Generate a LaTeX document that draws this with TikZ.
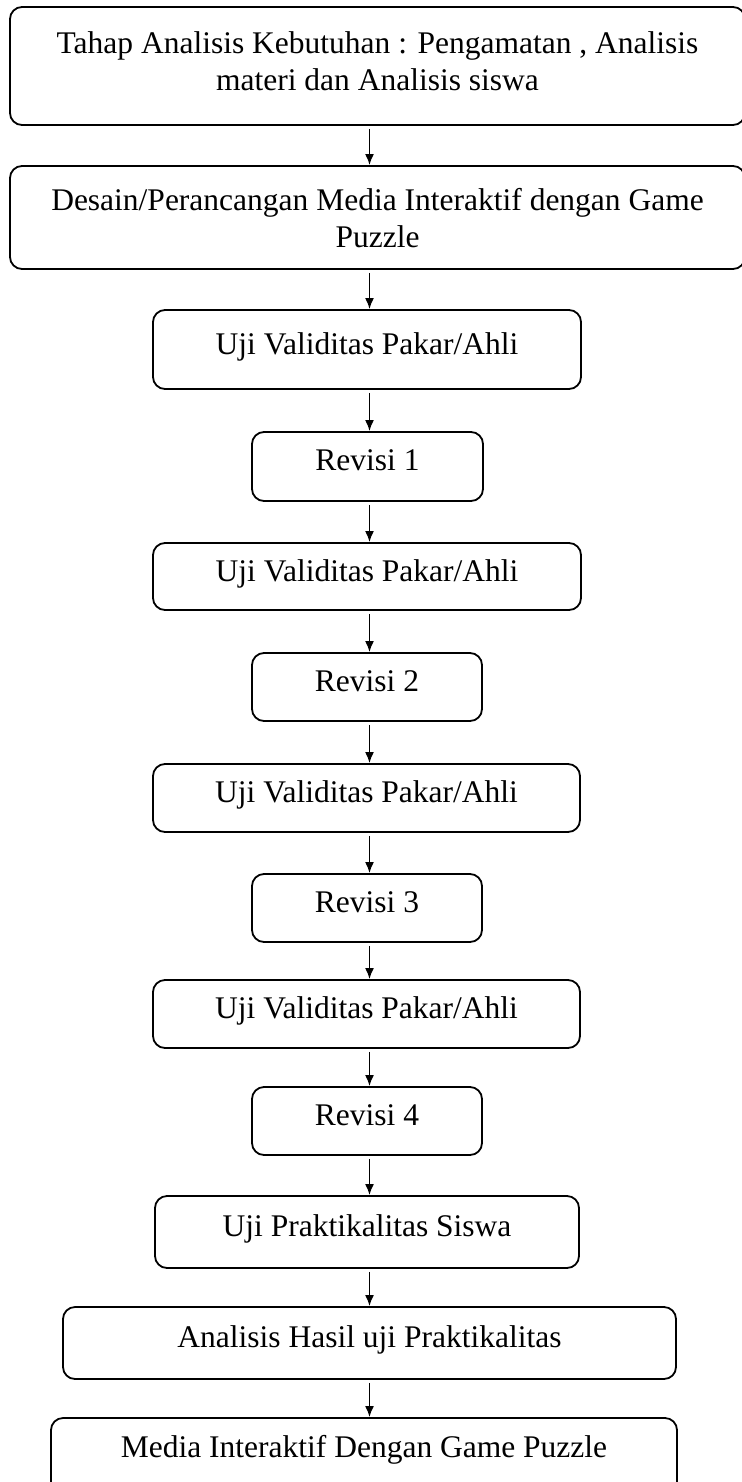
\documentclass[tikz,border=0pt]{standalone}
\usepackage{fontspec}
\setmainfont{Liberation Serif}
\usetikzlibrary{arrows.meta}

\begin{document}
\begin{tikzpicture}[x=1pt,y=-1pt,
  kotak/.style={draw, line width=1.8pt, rounded corners=12pt, align=center, inner sep=2pt, text depth=12pt, font=\fontsize{31.5}{37}\selectfont},
  panah/.style={line width=1.8pt, -{Latex[length=11pt,width=9pt]}}]
\useasboundingbox (0,0) rectangle (741,1482);
\coordinate (ax) at (369.5,0);

\node[kotak, minimum width = 735pt, minimum height = 118pt, text depth = 10pt] (tahap) at (377.5,66) {Tahap Analisis Kebutuhan : Pengamatan , Analisis\\materi dan Analisis siswa};
\node[kotak, minimum width = 735pt, minimum height = 103pt, text depth = 0pt] (desain) at (377.5,217.5) {Desain/Perancangan Media Interaktif dengan Game\\Puzzle};
\node[kotak, minimum width = 428pt, minimum height = 79pt] (uji1) at (367,349.5) {Uji Validitas Pakar/Ahli};
\node[kotak, minimum width = 231pt, minimum height = 69pt] (rev1) at (367.5,466.5) {Revisi 1};
\node[kotak, minimum width = 428pt, minimum height = 67pt] (uji2) at (367,576.5) {Uji Validitas Pakar/Ahli};
\node[kotak, minimum width = 230pt, minimum height = 68pt] (rev2) at (367,687) {Revisi 2};
\node[kotak, minimum width = 427pt, minimum height = 68pt] (uji3) at (366.5,798) {Uji Validitas Pakar/Ahli};
\node[kotak, minimum width = 230pt, minimum height = 68pt] (rev3) at (367,908) {Revisi 3};
\node[kotak, minimum width = 427pt, minimum height = 68pt] (uji4) at (366.5,1014) {Uji Validitas Pakar/Ahli};
\node[kotak, minimum width = 230pt, minimum height = 68pt] (rev4) at (367,1121) {Revisi 4};
\node[kotak, minimum width = 424pt, minimum height = 72pt] (praktis) at (367,1232) {Uji Praktikalitas Siswa};
\node[kotak, minimum width = 613pt, minimum height = 72pt] (hasil) at (369.5,1343) {Analisis Hasil uji Praktikalitas};
\node[kotak, minimum width = 626pt, minimum height = 82pt, text depth = 25pt] (media) at (364,1459) {Media Interaktif Dengan Game Puzzle};

% alur
\foreach \a/\b in {tahap/desain, desain/uji1, uji1/rev1, rev1/uji2, uji2/rev2, rev2/uji3, uji3/rev3, rev3/uji4, uji4/rev4, rev4/praktis, praktis/hasil, hasil/media}
  \draw[panah] ([yshift=-3pt]\a.south -| ax) -- (\b.north -| ax);
\end{tikzpicture}
\end{document}
